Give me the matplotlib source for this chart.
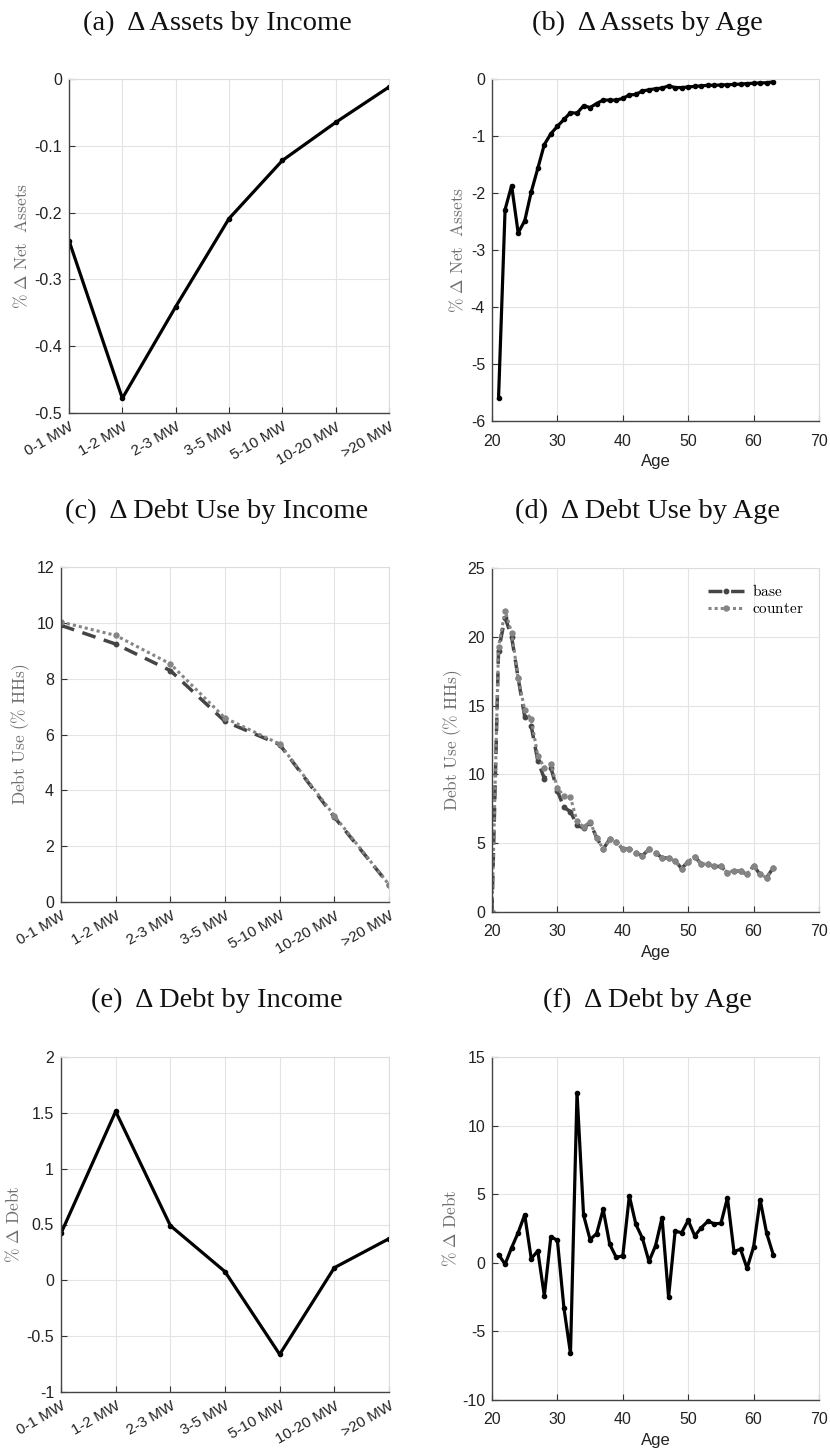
import numpy as np
import matplotlib.pyplot as plt

plt.rcParams['mathtext.fontset'] = 'cm'
plt.rcParams['font.family'] = 'Liberation Sans'
plt.rcParams['axes.unicode_minus'] = False

income_bins = ["0-1 MW", "1-2 MW", "2-3 MW", "3-5 MW", "5-10 MW", "10-20 MW", ">20 MW"]
ages = list(range(21, 64))
ages_use = list(range(20, 64))

# % change in net assets
assets_income = [-0.242, -0.478, -0.341, -0.209, -0.122, -0.065, -0.012]
assets_age = [-5.60, -2.29, -1.87, -2.70, -2.49, -1.98, -1.57, -1.15, -0.96, -0.83,
              -0.71, -0.59, -0.60, -0.47, -0.50, -0.43, -0.37, -0.37, -0.37, -0.34,
              -0.28, -0.27, -0.21, -0.19, -0.17, -0.16, -0.12, -0.15, -0.15, -0.14,
              -0.13, -0.12, -0.11, -0.11, -0.105, -0.10, -0.095, -0.09, -0.08, -0.075,
              -0.07, -0.065, -0.05]

# share of households using debt
use_income_base = [9.91, 9.24, 8.29, 6.47, 5.64, 3.04, 0.62]
use_income_counter = [10.03, 9.55, 8.53, 6.59, 5.66, 3.09, 0.62]
use_age_base = [0.0, 19.0, 21.4, 20.0, 17.0, 14.2, 13.5, 11.0, 9.7, 10.5, 8.8,
                7.6, 7.3, 6.3, 6.1, 6.5, 5.4, 4.57, 5.3, 5.1, 4.57,
                4.6, 4.28, 4.1, 4.55, 4.28, 3.96, 3.9, 3.72, 3.16, 3.67,
                4.03, 3.48, 3.5, 3.31, 3.31, 2.87, 3.0, 2.95, 2.75, 3.36,
                2.73, 2.5, 3.21]
use_age_counter = [0.0, 19.25, 21.9, 20.3, 17.0, 14.7, 14.0, 11.35, 10.5, 10.75, 9.0,
                   8.43, 8.33, 6.6, 6.18, 6.57, 5.4, 4.57, 5.31, 5.12, 4.57,
                   4.61, 4.28, 4.1, 4.57, 4.28, 3.96, 3.9, 3.72, 3.16, 3.67,
                   4.03, 3.48, 3.5, 3.31, 3.31, 2.87, 3.0, 2.95, 2.75, 3.36,
                   2.73, 2.5, 3.21]

# % change in debt
debt_income = [0.421, 1.513, 0.49, 0.078, -0.663, 0.113, 0.373]
debt_age = [0.6, -0.1, 1.1, 2.2, 3.5, 0.3, 0.87, -2.4, 1.9, 1.64,
            -3.3, -6.6, 12.4, 3.48, 1.69, 2.13, 3.89, 1.35, 0.39, 0.51,
            4.88, 2.8, 1.79, 0.1, 1.23, 3.29, -2.5, 2.3, 2.2, 3.09,
            1.96, 2.56, 3.02, 2.85, 2.87, 4.73, 0.82, 0.99, -0.4, 1.16,
            4.59, 2.15, 0.6]

W, H = 830, 1449
fig = plt.figure(figsize=(W / 100, H / 100), dpi=100)


def box(l, r, t, b):
    return [l / W, 1 - b / H, (r - l) / W, (b - t) / H]


def style(ax):
    ax.grid(True, color='#e3e3e3', linewidth=0.8)
    ax.set_axisbelow(True)
    for s in ['top', 'right']:
        ax.spines[s].set_color('#dcdcdc')
        ax.spines[s].set_linewidth(0.8)
    for s in ['left', 'bottom']:
        ax.spines[s].set_color('#444444')
        ax.spines[s].set_linewidth(1.0)
    ax.tick_params(direction='in', length=4, width=0.8, color='#333333',
                   labelsize=11.5, labelcolor='#222222', top=False, right=False)
    ax.tick_params(axis='y', pad=5)


def income_axis(ax):
    ax.set_xlim(0, 6)
    ax.set_xticks(range(7))
    ax.set_xticklabels(income_bins, rotation=30, ha='right', rotation_mode='anchor')
    ax.tick_params(axis='x', pad=5, labelsize=11)


def age_axis(ax):
    ax.set_xlim(20, 70)
    ax.set_xticks(range(20, 71, 10))
    ax.tick_params(axis='x', pad=9)
    ax.set_xlabel('Age', fontsize=12, color='#222222', labelpad=4)


def ylab(ax, text, xpx, l):
    # xpx is the right edge of the rotated label
    ax.set_ylabel(text, fontsize=12.5, color='#6e6e6e')
    ax.yaxis.set_label_coords((xpx - l) / ax.get_position().width / W, 0.5)


line_kw = dict(color='black', linewidth=2.3, marker='o', markersize=3)
base_kw = dict(color='#454545', linewidth=2.5, linestyle=(0, (4, 2.5)), marker='o', markersize=3.2)
counter_kw = dict(color='#858585', linewidth=2.2, linestyle=(0, (1, 1)), marker='o', markersize=3.6)

# (a)
ax = fig.add_axes(box(69, 389, 79, 413))
style(ax)
ax.plot(range(7), assets_income, **line_kw)
income_axis(ax)
ax.set_ylim(-0.5, 0)
ax.set_yticks([0, -0.1, -0.2, -0.3, -0.4, -0.5])
ax.set_yticklabels(['0', '-0.1', '-0.2', '-0.3', '-0.4', '-0.5'])
ylab(ax, r'$\%\ \Delta\ \mathrm{Net\ \ Assets}$', 30, 69)

# (b)
ax = fig.add_axes(box(492, 819, 79, 421))
style(ax)
ax.plot(ages, assets_age, **line_kw)
age_axis(ax)
ax.set_ylim(-6, 0)
ylab(ax, r'$\%\ \Delta\ \mathrm{Net\ \ Assets}$', 466, 492)

# (c)
ax = fig.add_axes(box(61, 389, 567, 902))
style(ax)
ax.plot(range(7), use_income_base, **base_kw)
ax.plot(range(7), use_income_counter, **counter_kw)
income_axis(ax)
ax.set_ylim(0, 12)
ax.set_yticks(range(0, 13, 2))
ylab(ax, r'$\mathrm{Debt\ Use\ (\%\ HHs)}$', 32, 61)

# (d)
ax = fig.add_axes(box(492, 819, 568, 912))
style(ax)
ax.plot(ages_use, use_age_base, label=r'$\mathrm{base}$', **base_kw)
ax.plot(ages_use, use_age_counter, label=r'$\mathrm{counter}$', **counter_kw)
age_axis(ax)
ax.set_ylim(0, 25)
ax.set_yticks(range(0, 26, 5))
ylab(ax, r'$\mathrm{Debt\ Use\ (\%\ HHs)}$', 464, 492)
ax.legend(loc='upper right', frameon=False, fontsize=11, handlelength=2.4,
          handletextpad=0.5, labelspacing=0.2, borderaxespad=0.6)

# (e)
ax = fig.add_axes(box(61, 389, 1057, 1392))
style(ax)
ax.plot(range(7), debt_income, **line_kw)
income_axis(ax)
ax.set_ylim(-1, 2)
ax.set_yticks([-1, -0.5, 0, 0.5, 1, 1.5, 2])
ax.set_yticklabels(['-1', '-0.5', '0', '0.5', '1', '1.5', '2'])
ylab(ax, r'$\%\ \Delta\ \mathrm{Debt}$', 22, 61)

# (f)
ax = fig.add_axes(box(492, 819, 1057, 1400))
style(ax)
ax.plot(ages, debt_age, **line_kw)
age_axis(ax)
ax.set_ylim(-10, 15)
ax.set_yticks(range(-10, 16, 5))
ylab(ax, r'$\%\ \Delta\ \mathrm{Debt}$', 459, 492)

titles = [("(a)  \u0394 Assets by Income", 217, 30),
          ("(b)  \u0394 Assets by Age", 647, 30),
          ("(c)  \u0394 Debt Use by Income", 217, 518),
          ("(d)  \u0394 Debt Use by Age", 647, 518),
          ("(e)  \u0394 Debt by Income", 217, 1007),
          ("(f)  \u0394 Debt by Age", 647, 1007)]
for text, x, y in titles:
    fig.text(x / W, 1 - y / H, text, ha='center', va='baseline', fontsize=20.5,
             family='Liberation Serif', color='#111111')

plt.savefig('out.png', dpi=100)
